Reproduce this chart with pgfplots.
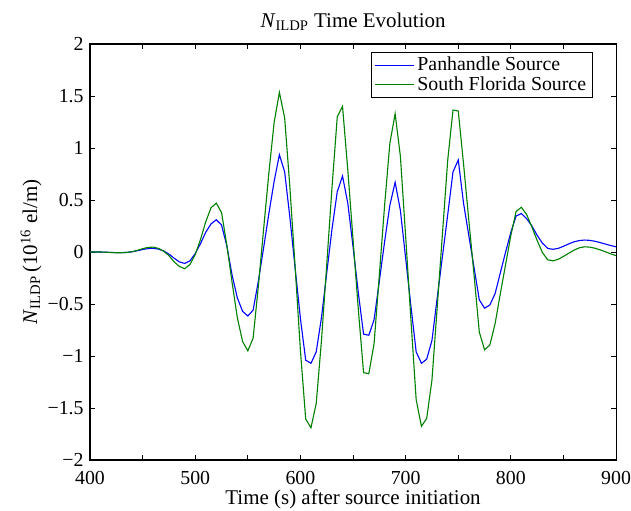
\documentclass[border=0pt]{standalone}
\usepackage{pgfplots}
\pgfplotsset{compat=1.18}
\usepackage{pgfplotstable}
\usepackage{fontspec}
\setmainfont{Liberation Serif}
\newfontfamily\tickfont{Liberation Serif}
\definecolor{mblue}{rgb}{0,0,1}
\definecolor{mgreen}{rgb}{0,0.5,0}

\pgfplotstableread{
t v
400 0.000
405 0.000
410 0.000
415 -0.002
420 -0.004
425 -0.006
430 -0.006
435 -0.004
440 0.002
445 0.012
450 0.024
455 0.033
460 0.036
465 0.028
470 0.010
475 -0.020
480 -0.060
485 -0.095
490 -0.110
495 -0.085
500 -0.015
505 0.080
510 0.190
515 0.270
520 0.310
525 0.260
530 0.060
535 -0.220
540 -0.440
545 -0.570
550 -0.615
555 -0.560
560 -0.280
565 0.040
570 0.370
575 0.680
580 0.935
585 0.770
590 0.330
595 -0.160
600 -0.640
605 -1.040
610 -1.070
615 -0.960
620 -0.630
625 -0.200
630 0.220
635 0.580
640 0.730
645 0.470
650 0.050
655 -0.390
660 -0.790
665 -0.800
670 -0.650
675 -0.280
680 0.100
685 0.450
690 0.670
695 0.400
700 -0.060
705 -0.520
710 -0.960
715 -1.070
720 -1.030
725 -0.850
730 -0.440
735 -0.040
740 0.360
745 0.770
750 0.885
755 0.470
760 0.160
765 -0.150
770 -0.460
775 -0.540
780 -0.510
785 -0.400
790 -0.200
795 0.000
800 0.190
805 0.346
810 0.370
815 0.320
820 0.250
825 0.160
830 0.085
835 0.035
840 0.026
845 0.035
850 0.055
855 0.078
860 0.098
865 0.110
870 0.115
875 0.112
880 0.103
885 0.090
890 0.076
895 0.062
900 0.050
}\panhandle

\pgfplotstableread{
t v
400 0.000
405 0.000
410 0.000
415 -0.002
420 -0.005
425 -0.007
430 -0.007
435 -0.004
440 0.003
445 0.016
450 0.032
455 0.044
460 0.047
465 0.035
470 0.008
475 -0.035
480 -0.095
485 -0.140
490 -0.160
495 -0.120
500 -0.025
505 0.120
510 0.290
515 0.425
520 0.470
525 0.380
530 0.070
535 -0.290
540 -0.630
545 -0.860
550 -0.950
555 -0.830
560 -0.330
565 0.220
570 0.760
575 1.245
580 1.535
585 1.290
590 0.620
595 -0.150
600 -0.950
605 -1.605
610 -1.690
615 -1.455
620 -0.850
625 -0.120
630 0.620
635 1.300
640 1.400
645 0.790
650 0.120
655 -0.550
660 -1.160
665 -1.170
670 -0.880
675 -0.220
680 0.450
685 1.045
690 1.330
695 0.920
700 0.150
705 -0.650
710 -1.420
715 -1.675
720 -1.600
725 -1.230
730 -0.530
735 0.180
740 0.885
745 1.365
750 1.355
755 0.850
760 0.310
765 -0.220
770 -0.770
775 -0.940
780 -0.895
785 -0.690
790 -0.400
795 -0.120
800 0.160
805 0.390
810 0.430
815 0.360
820 0.240
825 0.110
830 -0.005
835 -0.075
840 -0.085
845 -0.070
850 -0.042
855 -0.012
860 0.018
865 0.040
870 0.050
875 0.047
880 0.036
885 0.020
890 0.002
895 -0.018
900 -0.035
}\florida

\begin{document}
\begin{tikzpicture}
\begin{axis}[
  at={(0,0)}, anchor=south west,
  scale only axis,
  width=331.4pt, height=262.1pt,
  xmin=400, xmax=900, ymin=-2, ymax=2,
  axis line style={line width=0.7pt},
  tick align=inside,
  major tick length=3.2pt,
  every tick/.style={black, line width=0.6pt},
  xtick={400,450,...,900},
  xticklabels={\tickfont 400,,\tickfont 500,,\tickfont 600,,\tickfont 700,,\tickfont 800,,\tickfont 900},
  ytick={-2,-1.5,...,2},
  yticklabels={\tickfont −2,\tickfont −1.5,\tickfont −1,\tickfont −0.5,\tickfont 0,\tickfont 0.5,\tickfont 1,\tickfont 1.5,\tickfont 2},
  typeset ticklabel/.code={\tickfont #1},
  ticklabel style={font=\tickfont\fontsize{12.5}{14}\selectfont},
  xticklabel style={yshift=-3.5pt},
  yticklabel style={xshift=-0.5pt},
  label style={font=\fontsize{13.2}{15}\selectfont},
  title style={font=\fontsize{13.2}{15}\selectfont, yshift=-1pt},
  title={\textit{N}\textsubscript{ILDP} Time Evolution},
  xlabel={Time (s) after source initiation},
  ylabel={\textit{N}\textsubscript{ILDP}\,(10\textsuperscript{16} el/m)},
  xlabel style={yshift=3.5pt},
  ylabel style={at={(axis description cs:-0.112,0.5)}, anchor=center},
  legend style={at={(0.956,0.981)}, anchor=north east, draw=black,
    line width=0.6pt, font=\fontsize{12.5}{13}\selectfont,
    inner xsep=2pt, inner ysep=1pt, row sep=-2pt},
  legend cell align=left,
  legend image code/.code={\draw[#1] (0cm,0cm) -- (0.85cm,0cm);},
]
\addplot[mblue, line width=0.7pt] table[x=t,y=v] {\panhandle};
\addlegendentry{Panhandle Source}
\addplot[mgreen, line width=0.7pt] table[x=t,y=v] {\florida};
\addlegendentry{South Florida Source}
\end{axis}
\pgfresetboundingbox
\path (-56.7pt,-31.5pt) rectangle (340.8pt,289.8pt);
\end{tikzpicture}
\end{document}
